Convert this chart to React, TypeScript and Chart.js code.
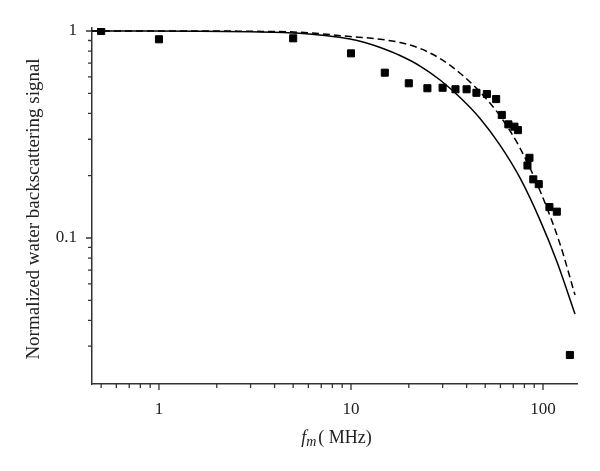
import React, { useEffect, useRef } from 'react';
import { Chart, registerables } from 'chart.js';

Chart.register(...registerables);

// ---- data ----
const measuredFreq = [0.5, 1, 5, 10, 15, 20, 25, 30, 35, 40, 45, 51, 57, 61, 66, 71, 74, 83, 85, 89, 95, 108, 118, 138];
const measuredSignal = [1.0, 0.912, 0.922, 0.78, 0.629, 0.559, 0.529, 0.532, 0.523, 0.523, 0.503, 0.496, 0.469, 0.393, 0.354, 0.345, 0.332, 0.224, 0.244, 0.192, 0.182, 0.141, 0.134, 0.0272];

const solidFreq = [0.448, 0.9, 1.64, 2.98, 5.42, 7.32, 9.88, 11.8, 14.2, 18.0, 22.9, 29.1, 37.0, 47.0, 59.7, 75.9, 96.5, 118.3, 146.8];
const solidSignal = [1.0, 1.0, 0.998, 0.991, 0.975, 0.951, 0.915, 0.88, 0.832, 0.761, 0.677, 0.58, 0.477, 0.378, 0.281, 0.195, 0.122, 0.0766, 0.0429];

const dashedFreq = [0.448, 0.9, 1.64, 2.98, 5.42, 9.88, 14.2, 18.0, 22.9, 29.1, 37.0, 47.0, 59.7, 75.9, 96.5, 122.6, 146.8];
const dashedSignal = [1.0, 1.0, 1.0, 0.997, 0.986, 0.941, 0.912, 0.88, 0.823, 0.736, 0.625, 0.507, 0.389, 0.272, 0.169, 0.0935, 0.053];

const xTickValues = [0.5, 0.6, 0.7, 0.8, 0.9, 1, 2, 3, 4, 5, 6, 7, 8, 9, 10, 20, 30, 40, 50, 60, 70, 80, 90, 100];
const xMajorTicks = [1, 10, 100];
const xMajorLabels = ['1', '10', '100'];

const yTickValues = [0.03, 0.04, 0.05, 0.06, 0.07, 0.08, 0.09, 0.1, 0.2, 0.3, 0.4, 0.5, 0.6, 0.7, 0.8, 0.9, 1];
const yMajorTicks = [0.1, 1];
const yMajorLabels = ['0.1', '1'];

const yTitle = 'Normalized water backscattering signal';
const xTitleMain = 'f';
const xTitleSub = 'm';
const xTitleUnit = '( MHz)';

const FONT = '"Liberation Serif", "Times New Roman", serif';
const AXIS_COLOR = '#333333';
const TEXT_COLOR = '#222222';

const toPoints = (xs: number[], ys: number[]) => xs.map((x, i) => ({ x, y: ys[i] }));
const near = (a: number, b: number) => Math.abs(a - b) < 1e-9 * Math.max(1, Math.abs(b));

export default function App() {
  const canvasRef = useRef<HTMLCanvasElement>(null);

  useEffect(() => {
    const canvas = canvasRef.current;
    if (!canvas) return;

    const decorPlugin = {
      id: 'decor',
      afterDraw(chart: any) {
        const c = chart.ctx as CanvasRenderingContext2D;
        const xs = chart.scales.x;
        const ys = chart.scales.y;
        const area = chart.chartArea;
        c.save();
        c.strokeStyle = AXIS_COLOR;
        c.lineWidth = 1.3;
        c.beginPath();
        xTickValues.forEach((v) => {
          const px = xs.getPixelForValue(v);
          const len = xMajorTicks.some((m) => near(m, v)) ? 6 : 4;
          c.moveTo(px, area.bottom);
          c.lineTo(px, area.bottom + len);
        });
        yTickValues.forEach((v) => {
          const py = ys.getPixelForValue(v);
          const len = yMajorTicks.some((m) => near(m, v)) ? 6 : 4;
          c.moveTo(area.left, py);
          c.lineTo(area.left - len, py);
        });
        c.stroke();

        // y title
        c.fillStyle = TEXT_COLOR;
        c.font = `19px ${FONT}`;
        c.textAlign = 'center';
        c.textBaseline = 'middle';
        c.translate(34, (area.top + area.bottom) / 2 + 3);
        c.rotate(-Math.PI / 2);
        c.fillText(yTitle, 0, 0);
        c.setTransform(1, 0, 0, 1, 0, 0);

        // x title: italic f with italic subscript m, then unit
        const mainFont = `italic 18px ${FONT}`;
        const subFont = `italic 14px ${FONT}`;
        const unitFont = `18px ${FONT}`;
        c.textBaseline = 'alphabetic';
        c.textAlign = 'left';
        c.font = mainFont;
        const w1 = c.measureText(xTitleMain).width;
        c.font = subFont;
        const w2 = c.measureText(xTitleSub).width;
        c.font = unitFont;
        const w3 = c.measureText(xTitleUnit).width;
        const total = w1 + w2 + 2 + w3;
        let x0 = (area.left + area.right) / 2 - total / 2 + 2;
        const base = 443;
        c.font = mainFont;
        c.fillText(xTitleMain, x0, base);
        x0 += w1;
        c.font = subFont;
        c.fillText(xTitleSub, x0, base + 3);
        x0 += w2 + 2;
        c.font = unitFont;
        c.fillText(xTitleUnit, x0, base);
        c.restore();
      },
    };

    const chart = new Chart(canvas, {
      type: 'scatter',
      data: {
        datasets: [
          {
            label: 'measured',
            data: toPoints(measuredFreq, measuredSignal),
            pointStyle: 'rect',
            pointRadius: 5,
            borderWidth: 1,
            backgroundColor: '#000000',
            borderColor: '#000000',
            showLine: false,
            order: 0,
          },
          {
            label: 'model 1',
            data: toPoints(solidFreq, solidSignal),
            showLine: true,
            pointRadius: 0,
            borderColor: '#000000',
            borderWidth: 1.5,
            cubicInterpolationMode: 'monotone',
            order: 1,
          },
          {
            label: 'model 2',
            data: toPoints(dashedFreq, dashedSignal),
            showLine: true,
            pointRadius: 0,
            borderColor: '#000000',
            borderWidth: 1.5,
            borderDash: [7, 4],
            cubicInterpolationMode: 'monotone',
            order: 1,
          },
        ],
      },
      options: {
        responsive: false,
        animation: false,
        layout: { padding: { top: 28, right: 23, left: 0, bottom: 0 } },
        plugins: {
          legend: { display: false },
          tooltip: { enabled: false },
          title: { display: false },
        },
        scales: {
          x: {
            type: 'logarithmic',
            min: 0.448,
            max: 150.3,
            afterBuildTicks: (s: any) => {
              s.ticks = xTickValues.map((v) => ({ value: v, major: xMajorTicks.some((m) => near(m, v)) }));
            },
            afterFit: (s: any) => {
              s.height = 87;
            },
            grid: { display: false, drawTicks: false },
            border: { display: true, color: AXIS_COLOR, width: 1.5 },
            ticks: {
              autoSkip: false,
              maxRotation: 0,
              minRotation: 0,
              padding: 15,
              color: TEXT_COLOR,
              font: { family: FONT, size: 17 },
              callback: (v: any) => {
                const i = xMajorTicks.findIndex((m) => near(m, Number(v)));
                return i >= 0 ? xMajorLabels[i] : '';
              },
            },
          },
          y: {
            type: 'logarithmic',
            min: 0.0197,
            max: 1.034,
            afterBuildTicks: (s: any) => {
              s.ticks = yTickValues.map((v) => ({ value: v, major: yMajorTicks.some((m) => near(m, v)) }));
            },
            afterFit: (s: any) => {
              s.width = 92;
            },
            grid: { display: false, drawTicks: false },
            border: { display: true, color: AXIS_COLOR, width: 1.5 },
            ticks: {
              autoSkip: false,
              padding: 15,
              color: TEXT_COLOR,
              font: { family: FONT, size: 17 },
              callback: (v: any) => {
                const i = yMajorTicks.findIndex((m) => near(m, Number(v)));
                return i >= 0 ? yMajorLabels[i] : '';
              },
            },
          },
        },
      },
      plugins: [decorPlugin],
    } as any);

    return () => chart.destroy();
  }, []);

  return (
    <div style={{ position: 'absolute', left: 0, top: 0, width: 600, height: 471, background: '#ffffff' }}>
      <canvas ref={canvasRef} width={600} height={471} style={{ width: 600, height: 471, display: 'block' }} />
    </div>
  );
}
